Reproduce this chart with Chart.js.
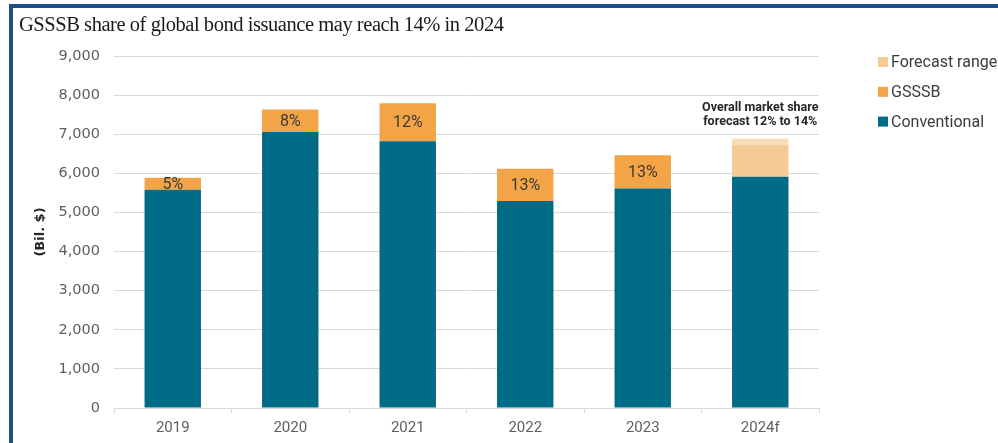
<!DOCTYPE html>
<html>
<head>
<meta charset="utf-8">
<script src="https://cdn.jsdelivr.net/npm/chart.js@4/dist/chart.umd.min.js"></script>
<style>
  html, body { margin: 0; padding: 0; background: #fff; }
  #wrap { position: relative; width: 998px; height: 443px; overflow: hidden; }
  #frame {
    position: absolute; left: 9px; top: 4px; right: 0; bottom: 0;
    border-top: 4px solid #1f4e85; border-left: 4px solid #1f4e85;
    pointer-events: none;
  }
  #title {
    position: absolute; left: 19px; top: 13px;
    font: 20.5px "Liberation Serif", "Times New Roman", serif;
    letter-spacing: -0.45px;
    color: #1a1a1a; white-space: nowrap;
  }
  canvas { position: absolute; left: 0; top: 0; }
</style>
</head>
<body>
<div id="wrap">
  <canvas id="issuanceChart" width="998" height="443"></canvas>
  <div id="frame"></div>
  <div id="title">GSSSB share of global bond issuance may reach 14% in 2024</div>
</div>

<script>
// Global bond issuance, billions of US dollars
const years = ['2019', '2020', '2021', '2022', '2023', '2024f'];
const conventional = [5580, 7060, 6820, 5290, 5610, 5910];
const gsssb = [310, 570, 970, 825, 855, null];
const forecastLow = [null, null, null, null, null, 820];   // up to a 12% share
const forecastHigh = [null, null, null, null, null, 160];  // 12% to 14% share
const shareLabels = ['5%', '8%', '12%', '13%', '13%', ''];
const yTickLabels = ['0', '1,000', '2,000', '3,000', '4,000', '5,000', '6,000', '7,000', '8,000', '9,000'];
const forecastNote = ['Overall market share', 'forecast 12% to 14%'];

const tickColor = '#5f5f5f';
const gridColor = '#d9d9d9';

// share % written in the middle of each GSSSB segment, plus the note over 2024f
const barText = {
  id: 'barText',
  afterDatasetsDraw(chart) {
    const ctx = chart.ctx;
    const meta = chart.getDatasetMeta(1);
    ctx.save();
    ctx.font = '16px Roboto, sans-serif';
    ctx.fillStyle = '#3d3a36';
    ctx.textAlign = 'center';
    ctx.textBaseline = 'middle';
    meta.data.forEach((bar, i) => {
      if (!shareLabels[i] || gsssb[i] == null) return;
      ctx.fillText(shareLabels[i], bar.x, (bar.y + bar.base) / 2 + 1);
    });

    const top = chart.getDatasetMeta(3).data[5];
    ctx.font = 'bold 12.5px Roboto, sans-serif';
    ctx.fillStyle = '#262626';
    ctx.fillText(forecastNote[0], top.x, top.y - 31);
    ctx.fillText(forecastNote[1], top.x, top.y - 17);
    ctx.restore();
  }
};

// legend on the right, top of the stack first
const sideLegend = {
  id: 'sideLegend',
  afterDraw(chart) {
    const ctx = chart.ctx;
    const items = chart.data.datasets.filter(d => !d.noLegend).reverse();
    ctx.save();
    ctx.font = '16px Roboto, sans-serif';
    ctx.textBaseline = 'middle';
    ctx.textAlign = 'left';
    items.forEach((d, i) => {
      const y = 62 + i * 29.8;
      ctx.fillStyle = d.backgroundColor;
      ctx.fillRect(878, y - 5, 10, 10);
      ctx.fillStyle = '#3b3b3b';
      ctx.fillText(d.label, 891, y + 1);
    });
    ctx.restore();
  }
};

new Chart(document.getElementById('issuanceChart'), {
  type: 'bar',
  data: {
    labels: years,
    datasets: [
      { label: 'Conventional', data: conventional, backgroundColor: '#006b87' },
      { label: 'GSSSB', data: gsssb, backgroundColor: '#f2a446' },
      { label: 'Forecast range', data: forecastLow, backgroundColor: '#f6ca94' },
      { label: 'Forecast high', data: forecastHigh, backgroundColor: '#f9dcb8', noLegend: true }
    ]
  },
  options: {
    responsive: false,
    animation: false,
    layout: { padding: { top: 56, right: 179, bottom: 0, left: 0 } },
    datasets: { bar: { categoryPercentage: 1, barPercentage: 0.48 } },
    plugins: {
      legend: { display: false },
      tooltip: { enabled: false }
    },
    scales: {
      x: {
        stacked: true,
        afterFit: s => { s.height = 35; },
        grid: { offset: true, drawOnChartArea: false, drawTicks: true, tickLength: 5, color: gridColor },
        border: { display: true, color: gridColor },
        ticks: { color: tickColor, padding: 6, font: { family: 'Roboto', size: 15 } }
      },
      y: {
        stacked: true,
        min: 0,
        max: 9000,
        afterFit: s => { s.width = 114; },
        grid: { color: gridColor, drawTicks: false },
        border: { display: false },
        ticks: {
          stepSize: 1000,
          padding: 14,
          color: tickColor,
          font: { family: 'DejaVu Sans', size: 14.5 },
          callback: (v, i) => yTickLabels[i]
        },
        title: {
          display: true,
          text: '(Bil. $)',
          color: '#262626',
          padding: { top: 33, bottom: 0 },
          font: { family: 'DejaVu Sans', size: 13, weight: 'bold' }
        }
      }
    }
  },
  plugins: [barText, sideLegend]
});
</script>
</body>
</html>
